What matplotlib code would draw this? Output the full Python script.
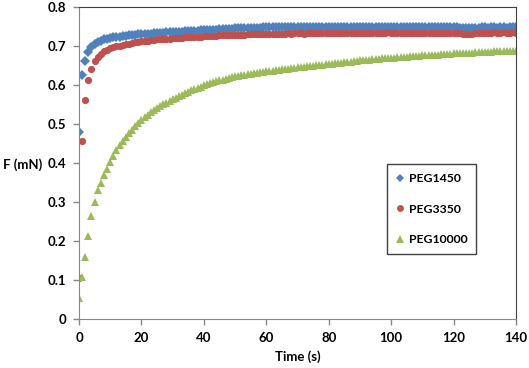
import matplotlib
matplotlib.use("Agg")
import matplotlib.pyplot as plt

# --- datos (t = 0..140 s, paso 1 s) ---
tiempo = list(range(0, 141))

peg1450 = [
    0.480, 0.625, 0.662, 0.685, 0.697, 0.705, 0.710, 0.714, 0.717, 0.719,
    0.721, 0.722, 0.723, 0.724, 0.725, 0.726, 0.727, 0.728, 0.729, 0.730,
    0.730, 0.731, 0.731, 0.732, 0.733, 0.733, 0.734, 0.734, 0.735, 0.735,
    0.736, 0.736, 0.737, 0.737, 0.738, 0.738, 0.739, 0.739, 0.739, 0.740,
    0.740, 0.741, 0.741, 0.742, 0.742, 0.743, 0.743, 0.744, 0.744, 0.744,
    0.745, 0.745, 0.745, 0.746, 0.746, 0.746, 0.747, 0.747, 0.747, 0.748,
    0.748, 0.748, 0.749, 0.748, 0.749, 0.749, 0.748, 0.749, 0.749, 0.749,
    0.749, 0.750, 0.749, 0.749, 0.750, 0.749, 0.750, 0.749, 0.750, 0.749,
    0.750, 0.749, 0.750, 0.750, 0.749, 0.750, 0.749, 0.750, 0.750, 0.749,
    0.750, 0.750, 0.749, 0.750, 0.749, 0.750, 0.750, 0.749, 0.749, 0.750,
    0.749, 0.750, 0.749, 0.749, 0.750, 0.749, 0.749, 0.748, 0.749, 0.749,
    0.749, 0.748, 0.749, 0.749, 0.749, 0.748, 0.749, 0.748, 0.749, 0.748,
    0.748, 0.748, 0.747, 0.747, 0.746, 0.746, 0.746, 0.747, 0.747, 0.748,
    0.748, 0.747, 0.748, 0.748, 0.747, 0.748, 0.748, 0.747, 0.748, 0.748,
    0.748,
]

peg3350 = [
    0.105, 0.457, 0.561, 0.614, 0.642, 0.662, 0.672, 0.680, 0.686, 0.690,
    0.694, 0.697, 0.699, 0.701, 0.703, 0.705, 0.706, 0.708, 0.709, 0.711,
    0.712, 0.713, 0.714, 0.715, 0.716, 0.717, 0.718, 0.718, 0.719, 0.719,
    0.720, 0.720, 0.721, 0.721, 0.722, 0.722, 0.723, 0.723, 0.724, 0.724,
    0.725, 0.725, 0.726, 0.726, 0.726, 0.727, 0.727, 0.727, 0.728, 0.728,
    0.728, 0.729, 0.729, 0.729, 0.730, 0.730, 0.730, 0.730, 0.731, 0.731,
    0.731, 0.731, 0.732, 0.731, 0.732, 0.732, 0.732, 0.733, 0.732, 0.733,
    0.733, 0.733, 0.732, 0.733, 0.733, 0.734, 0.733, 0.733, 0.734, 0.733,
    0.734, 0.733, 0.734, 0.734, 0.733, 0.734, 0.734, 0.734, 0.733, 0.734,
    0.734, 0.734, 0.734, 0.733, 0.734, 0.734, 0.734, 0.734, 0.734, 0.735,
    0.734, 0.734, 0.733, 0.734, 0.734, 0.734, 0.734, 0.733, 0.734, 0.734,
    0.734, 0.734, 0.733, 0.734, 0.734, 0.734, 0.734, 0.734, 0.734, 0.734,
    0.734, 0.733, 0.733, 0.732, 0.732, 0.731, 0.732, 0.733, 0.733, 0.734,
    0.734, 0.734, 0.734, 0.735, 0.734, 0.734, 0.735, 0.734, 0.734, 0.735,
    0.734,
]

peg10000 = [
    0.054, 0.107, 0.159, 0.213, 0.265, 0.300, 0.330, 0.349, 0.368, 0.385,
    0.402, 0.419, 0.434, 0.445, 0.456, 0.466, 0.476, 0.485, 0.494, 0.502,
    0.510, 0.517, 0.524, 0.530, 0.536, 0.541, 0.546, 0.551, 0.555, 0.559,
    0.563, 0.567, 0.571, 0.575, 0.579, 0.583, 0.586, 0.590, 0.593, 0.596,
    0.599, 0.602, 0.605, 0.607, 0.610, 0.612, 0.614, 0.616, 0.618, 0.620,
    0.622, 0.623, 0.625, 0.626, 0.628, 0.629, 0.630, 0.632, 0.633, 0.634,
    0.635, 0.636, 0.637, 0.638, 0.639, 0.640, 0.641, 0.642, 0.643, 0.644,
    0.645, 0.646, 0.647, 0.648, 0.649, 0.650, 0.651, 0.651, 0.652, 0.653,
    0.654, 0.655, 0.656, 0.657, 0.657, 0.658, 0.659, 0.660, 0.661, 0.662,
    0.663, 0.663, 0.664, 0.665, 0.666, 0.666, 0.667, 0.668, 0.668, 0.669,
    0.670, 0.670, 0.671, 0.672, 0.672, 0.673, 0.674, 0.674, 0.675, 0.675,
    0.676, 0.676, 0.677, 0.677, 0.678, 0.678, 0.679, 0.679, 0.680, 0.680,
    0.681, 0.681, 0.682, 0.682, 0.682, 0.683, 0.683, 0.684, 0.684, 0.684,
    0.685, 0.685, 0.685, 0.686, 0.686, 0.686, 0.687, 0.687, 0.687, 0.688,
    0.688,
]

etiquetas = ["PEG1450", "PEG3350", "PEG10000"]
xticks = [0, 20, 40, 60, 80, 100, 120, 140]
yticks = [0, 0.1, 0.2, 0.3, 0.4, 0.5, 0.6, 0.7, 0.8]
yticklabels = ["0", "0.1", "0.2", "0.3", "0.4", "0.5", "0.6", "0.7", "0.8"]

plt.rcParams['font.family'] = ['Lato', 'DejaVu Sans']
plt.rcParams['font.weight'] = 'bold'

fig = plt.figure(figsize=(5.29, 3.68), dpi=100)
ax = fig.add_axes([79 / 529, 1 - 319 / 368, 437 / 529, 312 / 368])

# series (mismo orden que Excel: azul, rojo, verde encima)
ax.plot(tiempo, peg1450, linestyle='none', marker='D', markersize=4.6,
        color='#4F81BD', markeredgewidth=0, label=etiquetas[0])
ax.plot(tiempo, peg3350, linestyle='none', marker='o', markersize=5.2,
        color='#C0504D', markeredgewidth=0, label=etiquetas[1])
ax.plot(tiempo, peg10000, linestyle='none', marker='^', markersize=6.2,
        color='#9BBB59', markeredgewidth=0, label=etiquetas[2])

ax.set_xlim(0, 140)
ax.set_ylim(0, 0.8)
ax.set_xticks(xticks)
ax.set_xticklabels([str(v) for v in xticks])
ax.set_yticks(yticks)
ax.set_yticklabels(yticklabels)
ax.tick_params(axis='both', direction='out', length=4, width=1, color='#868686',
               labelsize=9.5, pad=5)

for lado in ['left', 'bottom']:
    ax.spines[lado].set_color('#868686')
for lado in ['top', 'right']:
    ax.spines[lado].set_color('#404040')

ax.set_xlabel('Time (s)', fontsize=9.5, fontweight='bold', labelpad=5)
ax.set_ylabel('F (mN)', fontsize=9.5, fontweight='bold', rotation=0,
              ha='right', va='center')
ax.yaxis.set_label_coords(-0.083, 0.494)

leg = ax.legend(loc='upper left', bbox_to_anchor=(0.704, 0.497), borderaxespad=0,
                fancybox=False, edgecolor='#404040', framealpha=1,
                labelspacing=1.6, handlelength=0.7, handletextpad=0.35,
                borderpad=0.75, fontsize=8.8, markerscale=0.95)
leg.get_frame().set_linewidth(1.0)

fig.savefig('out.png', dpi=100)
